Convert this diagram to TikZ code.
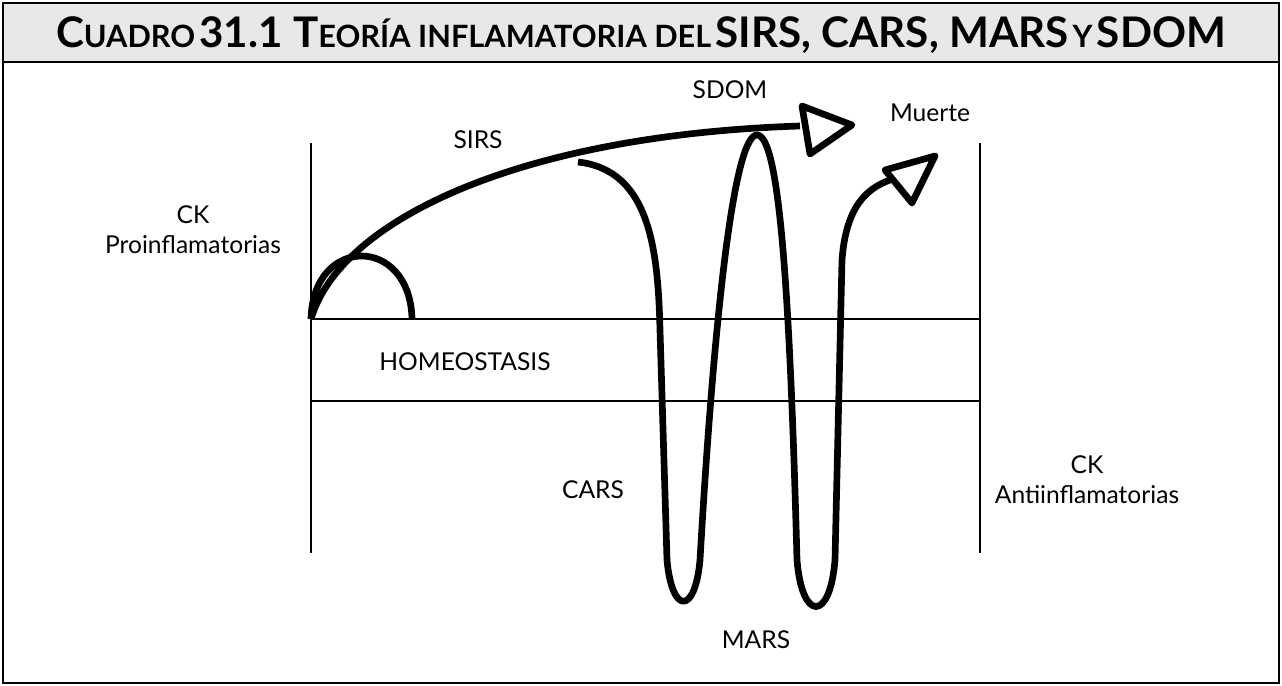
\documentclass[tikz,border=0pt]{standalone}
\usepackage{fontspec}
\setmainfont{Lato}
\newcommand{\bigc}[1]{{\fontsize{24}{26}\selectfont #1}}
\newcommand{\smc}[1]{{\fontsize{17.5}{19}\selectfont #1}}
\begin{document}
\begin{tikzpicture}[x=0.02cm,y=-0.02cm,
  lbl/.style={font=\fontsize{14}{17}\selectfont, align=center, inner sep=0},
  thin/.style={line width=0.8pt},
  heavy/.style={line width=3.8pt, line join=round}]
\useasboundingbox (0,0) rectangle (1282,686);
\fill[gray!18] (3,3) rectangle (1279,62);
\draw[line width=1.2pt] (3,3) rectangle (1279,683);
\draw[line width=1.2pt] (3,62) -- (1279,62);
\node[inner sep=0, font=\bfseries] (title) at (641,35) {\bigc{C}\smc{UADRO}\ \bigc{31.1 T}\smc{EORÍA INFLAMATORIA DEL}\ \bigc{SIRS, CARS, MARS}\ \smc{Y}\ \bigc{SDOM}};
% axes
\draw[thin] (311,143) -- (311,553);
\draw[thin] (980,143) -- (980,553);
\draw[thin] (311,319) -- (980,319);
\draw[thin] (311,401) -- (980,401);
% small arc
\draw[heavy] (311,319) .. controls (313,235) and (410,235) .. (412,319);
% SIRS
\draw[heavy] (311,319) .. controls (340,220) and (520,135) .. (800,126);
\draw[heavy] (802,106) -- (852,125) -- (810,154) -- cycle;
% CARS / MARS
\draw[heavy] (578,162) .. controls (650,170) and (658,250) .. (660,330) -- (667,560)
  .. controls (672,615) and (695,615) .. (700,560)
  .. controls (715,300) and (735,135) .. (757,135)
  .. controls (780,135) and (790,300) .. (797,560)
  .. controls (802,622) and (830,622) .. (835,560)
  -- (842,260) .. controls (846,205) and (868,188) .. (890,180);
\draw[heavy] (885,170) -- (935,156) -- (912,203) -- cycle;
% labels
\node[lbl] (sirs) at (478,140) {SIRS};
\node[lbl] (sdom) at (730,90) {SDOM};
\node[lbl] (muerte) at (930,113) {Muerte};
\node[lbl] (pro) at (193,230) {CK\\Proinflamatorias};
\node[lbl] (homeo) at (465,362) {HOMEOSTASIS};
\node[lbl] (cars) at (593,490) {CARS};
\node[lbl] (mars) at (756,640) {MARS};
\node[lbl] (anti) at (1087,480) {CK\\Antiinflamatorias};
\end{tikzpicture}
\end{document}
